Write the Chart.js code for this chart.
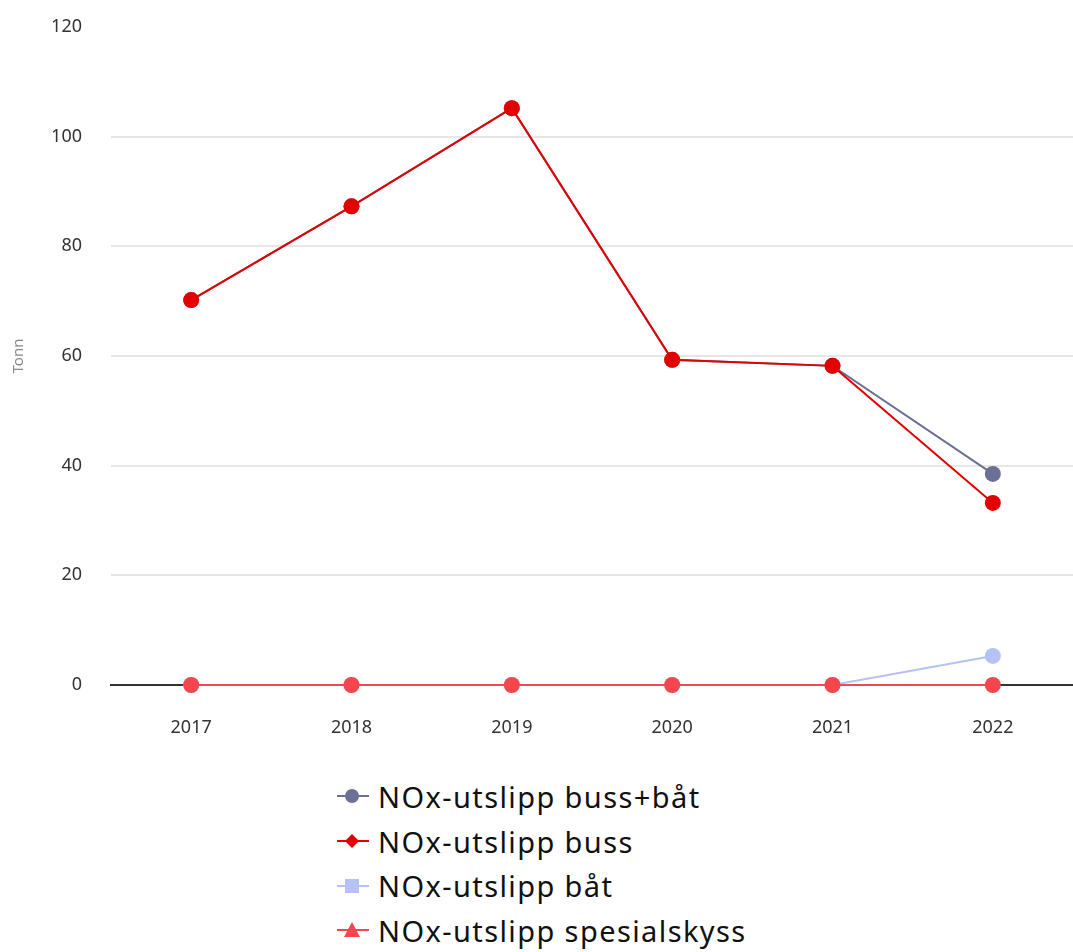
<!DOCTYPE html>
<html>
<head>
<meta charset="utf-8">
<script src="https://cdn.jsdelivr.net/npm/chart.js@4"></script>
<style>
  body { margin: 0; background: #fff; font-family: "Noto Sans", sans-serif; overflow: hidden; }
  #wrap { position: relative; width: 1073px; height: 760px; }
  #legend { margin-left: 336px; margin-top: 14px; }
  .item { height: 44.7px; display: flex; align-items: center; font-size: 29px; letter-spacing: 1.4px; color: #111; }
  .item svg { margin-right: 8px; }
</style>
</head>
<body>
<div id="wrap"><canvas id="chart"></canvas></div>
<div id="legend"></div>
<script>
    var years = ["2017", "2018", "2019", "2020", "2021", "2022"];
    var labels = ["NOx-utslipp buss+båt", "NOx-utslipp buss", "NOx-utslipp båt", "NOx-utslipp spesialskyss"];
    var bussBat = [70.2, 87.3, 105.2, 59.3, 58.2, 38.5];
    var buss = [70.2, 87.3, 105.2, 59.3, 58.2, 33.2];
    var bat = [0, 0, 0, 0, 0, 5.3];
    var spesial = [0, 0, 0, 0, 0, 0];
    var colors = ["#6b7094", "#e30000", "#b6c1f7", "#f5464d"];
    var shapes = ["circle", "diamond", "square", "triangle"];
    var yTicks = [0, 20, 40, 60, 80, 100, 120];

    var series = [bussBat, buss, bat, spesial];
    var datasets = series.map(function(d, i){
      return {
        label: labels[i],
        data: d,
        borderColor: colors[i],
        backgroundColor: colors[i],
        borderWidth: 2,
        pointRadius: 8,
        pointHoverRadius: 8,
        pointBorderWidth: 0,
        pointStyle: "circle",
        clip: false,
        order: 4 - i
      };
    });

    new Chart(document.getElementById("chart"), {
      type: 'line',
      data: { labels: years, datasets: datasets },
      options: {
        responsive: true,
        maintainAspectRatio: false,
        animation: false,
        layout: { autoPadding: false, padding: { top: 27, right: 0, left: 0, bottom: 0 } },
        plugins: { legend: { display: false }, tooltip: { enabled: false } },
        scales: {
          x: {
            offset: true,
            grid: { display: false, drawTicks: false },
            border: { display: true, color: "#333", width: 2 },
            ticks: { padding: 32, color: "#333", font: { family: "Noto Sans", size: 18 } },
            afterFit: function(s){ s.height = 75; }
          },
          y: {
            min: 0,
            max: 120,
            afterBuildTicks: function(s){ s.ticks = yTicks.map(function(v){ return { value: v }; }); },
            grid: {
              drawTicks: true,
              tickLength: 29,
              tickColor: "rgba(0,0,0,0)",
              lineWidth: 2,
              color: function(c){ return c.tick && c.tick.value === 120 ? "rgba(0,0,0,0)" : "#e6e6e6"; }
            },
            border: { display: false },
            ticks: { padding: 0, color: "#333", font: { family: "Noto Sans", size: 18 } },
            title: { display: true, text: "Tonn", color: "#888", padding: { top: 10, bottom: 0 }, font: { family: "Noto Sans", size: 15 } },
            afterFit: function(s){ s.width = 111; }
          }
        }
      }
    });

    function marker(shape, color){
      var m = "";
      if (shape === "circle") m = '<circle cx="16" cy="12" r="7" fill="' + color + '"/>';
      if (shape === "diamond") m = '<polygon points="16,5 23,12 16,19 9,12" fill="' + color + '"/>';
      if (shape === "square") m = '<rect x="9" y="5" width="14" height="14" fill="' + color + '"/>';
      if (shape === "triangle") m = '<polygon points="16,4 24,19 8,19" fill="' + color + '"/>';
      return '<svg width="34" height="24"><line x1="1" y1="12" x2="33" y2="12" stroke="' + color + '" stroke-width="2"/>' + m + '</svg>';
    }

    var html = "";
    labels.forEach(function(l, i){
      html += '<div class="item">' + marker(shapes[i], colors[i]) + '<span>' + l + '</span></div>';
    });
    document.getElementById("legend").innerHTML = html;
</script>
</body>
</html>
